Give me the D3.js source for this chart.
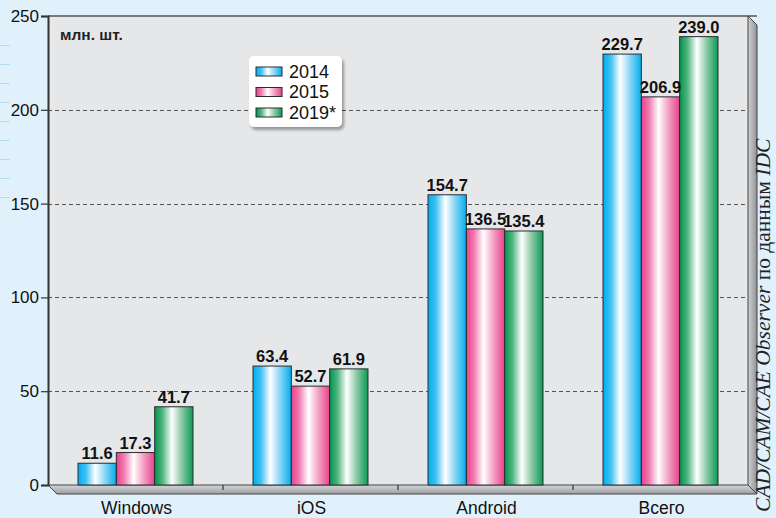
<!DOCTYPE html>
<html>
  <head>
    <meta charset="utf-8">
    <title>Tablets by platform</title>
    <script src="https://d3js.org/d3.v7.min.js"></script>
    <style>
      body { margin: 0; background: #e0f1fb; }
      svg { display: block; font-family: Arial, "Liberation Sans", sans-serif; }
    </style>
  </head>
  <body>
    <div id="chart"></div>
    <script>
      // data
      var categories = ["Windows", "iOS", "Android", "Всего"]
      var years = ["2014", "2015", "2019*"]
      var v2014 = [11.6, 63.4, 154.7, 229.7]
      var v2015 = [17.3, 52.7, 136.5, 206.9]
      var v2019 = [41.7, 61.9, 135.4, 239.0]
      var yTicks = [0, 50, 100, 150, 200, 250]
      var series = [v2014, v2015, v2019]

      const W = 776, H = 518
      const margin = {top: 16, right: 28, bottom: 33, left: 48}
      const width = W - margin.left - margin.right,
            height = H - margin.top - margin.bottom
      const depth = 9

      const svg = d3.select("#chart").append("svg")
        .attr("width", W).attr("height", H)

      const defs = svg.append("defs")
      const colors = [
        ["#00aeef", "#3fc0f2", "#ffffff", "#8bd6f5", "#00aeef"],
        ["#e8418c", "#f07bb0", "#ffffff", "#f3a3c6", "#e8418c"],
        ["#00954d", "#4fb47e", "#ffffff", "#8ccaa6", "#0a9a55"]
      ]
      colors.forEach(function(c, i) {
        var g = defs.append("linearGradient").attr("id", "grad" + i)
          .attr("x1", 0).attr("x2", 1).attr("y1", 0).attr("y2", 0)
        var offs = [0, 0.2, 0.45, 0.7, 1]
        c.forEach(function(col, j) {
          g.append("stop").attr("offset", offs[j]).attr("stop-color", col)
        })
      })
      var fg = defs.append("linearGradient").attr("id", "floor")
        .attr("x1", 0).attr("x2", 0).attr("y1", 0).attr("y2", 1)
      fg.append("stop").attr("offset", 0).attr("stop-color", "#d4d5d7")
      fg.append("stop").attr("offset", 1).attr("stop-color", "#9c9ea1")
      var wg = defs.append("linearGradient").attr("id", "wall")
        .attr("x1", 0).attr("x2", 1).attr("y1", 0).attr("y2", 0)
      wg.append("stop").attr("offset", 0).attr("stop-color", "#d0d1d3")
      wg.append("stop").attr("offset", 1).attr("stop-color", "#909295")
      var sh = defs.append("filter").attr("id", "shadow")
        .attr("x", "-20%").attr("y", "-20%").attr("width", "140%").attr("height", "140%")
      sh.append("feDropShadow").attr("dx", 2).attr("dy", 3).attr("stdDeviation", 1.5)
        .attr("flood-color", "#000").attr("flood-opacity", 0.35)

      // faint lines from the page behind the chart
      svg.selectAll("line.bg")
        .data(d3.range(9))
        .join("line")
          .attr("x1", 0).attr("x2", 10)
          .attr("y1", d => 45.5 + d * 19).attr("y2", d => 45.5 + d * 19)
          .attr("stroke", "#b3dcf0").attr("stroke-width", 1)

      const x = d3.scaleBand()
        .domain(categories)
        .range([margin.left, margin.left + width])
        .paddingInner(0.343).paddingOuter(0.1715)
      const xs = d3.scaleBand()
        .domain(years)
        .range([0, x.bandwidth()])
      const y = d3.scaleLinear()
        .domain([0, 250])
        .range([margin.top + height, margin.top])

      const x0 = margin.left, x1 = margin.left + width,
            yb = margin.top + height, yt = margin.top

      // back wall
      svg.append("rect")
        .attr("x", x0).attr("y", yt)
        .attr("width", width).attr("height", height)
        .attr("fill", "#e6e7e9")
      svg.append("line")
        .attr("x1", x0).attr("x2", x1 + depth).attr("y1", yt).attr("y2", yt)
        .attr("stroke", "#555").attr("stroke-width", 1.5)

      // right wall and floor
      svg.append("polygon")
        .attr("points", [[x1, yt], [x1 + depth, yt + depth], [x1 + depth, yb + depth], [x1, yb]].join(" "))
        .attr("fill", "url(#wall)").attr("stroke", "#444").attr("stroke-width", 1)
      svg.append("polygon")
        .attr("points", [[x0, yb], [x1, yb], [x1 + depth, yb + depth], [x0 + depth, yb + depth]].join(" "))
        .attr("fill", "url(#floor)").attr("stroke", "#444").attr("stroke-width", 1)

      // grid
      svg.selectAll("line.grid")
        .data(yTicks.filter(d => d > 0 && d < 250))
        .join("line")
          .attr("x1", x0).attr("x2", x1)
          .attr("y1", d => Math.round(y(d)) + 0.5).attr("y2", d => Math.round(y(d)) + 0.5)
          .attr("stroke", "#555").attr("stroke-width", 1)
          .attr("stroke-dasharray", "4,3")

      // x ticks on the floor
      svg.selectAll("line.xt")
        .data(categories.slice(1))
        .join("line")
          .attr("x1", d => x(d) - x.step() * x.paddingInner() / 2)
          .attr("x2", d => x(d) - x.step() * x.paddingInner() / 2)
          .attr("y1", yb).attr("y2", yb + 5)
          .attr("stroke", "#333").attr("stroke-width", 1.2)

      // y axis
      const yAxis = svg.append("g")
        .attr("transform", `translate(${x0},0)`)
        .call(d3.axisLeft(y).tickValues(yTicks).tickSize(7).tickPadding(2))
      yAxis.select(".domain").attr("stroke", "#333").attr("stroke-width", 2)
      yAxis.selectAll(".tick line").attr("stroke", "#333").attr("stroke-width", 1.2)
      yAxis.selectAll(".tick text")
        .attr("font-size", 17).attr("fill", "#111")
        .attr("font-family", "Arial, Liberation Sans, sans-serif")

      // bars
      const groups = svg.selectAll("g.cat")
        .data(categories)
        .join("g")
          .attr("transform", d => `translate(${x(d)},0)`)

      groups.selectAll("rect")
        .data((d, i) => series.map((s, k) => ({year: years[k], k: k, value: s[i]})))
        .join("rect")
          .attr("x", d => xs(d.year))
          .attr("y", d => y(d.value))
          .attr("width", xs.bandwidth())
          .attr("height", d => yb - y(d.value))
          .attr("fill", d => `url(#grad${d.k})`)
          .attr("stroke", "#2b2b2b").attr("stroke-width", 1)

      groups.selectAll("text")
        .data((d, i) => series.map((s, k) => ({year: years[k], value: s[i]})))
        .join("text")
          .attr("x", d => xs(d.year) + xs.bandwidth() / 2)
          .attr("y", d => y(d.value) - 4)
          .attr("text-anchor", "middle")
          .attr("font-size", 16.5).attr("font-weight", "bold")
          .attr("fill", "#111")
          .text(d => d3.format(".1f")(d.value))

      // category labels
      svg.selectAll("text.cat")
        .data(categories)
        .join("text")
          .attr("x", d => x(d) + x.bandwidth() / 2 + 1)
          .attr("y", 514)
          .attr("text-anchor", "middle")
          .attr("font-size", 17.5).attr("fill", "#111")
          .text(d => d)

      // units
      svg.append("text")
        .attr("x", 60).attr("y", 40)
        .attr("font-size", 15.5).attr("font-weight", "bold").attr("fill", "#222")
        .text("млн. шт.")

      // legend
      const lg = svg.append("g").attr("transform", "translate(249,56)")
      lg.append("rect")
        .attr("width", 93).attr("height", 71).attr("rx", 5)
        .attr("fill", "#fff").attr("filter", "url(#shadow)")
      const li = lg.selectAll("g.item")
        .data(years)
        .join("g")
          .attr("transform", (d, i) => `translate(7,${11 + i * 20.5})`)
      li.append("rect")
        .attr("width", 26).attr("height", 9)
        .attr("fill", (d, i) => `url(#grad${i})`)
        .attr("stroke", "#2b2b2b").attr("stroke-width", 1)
      li.append("text")
        .attr("x", 33).attr("y", 10.5)
        .attr("font-size", 18).attr("fill", "#111")
        .text(d => d)

      // source, vertical
      const src = svg.append("text")
        .attr("transform", "translate(770,512) rotate(-90)")
        .attr("font-family", "Liberation Serif, Times New Roman, serif")
        .attr("font-size", 21.5).attr("fill", "#222")
      src.append("tspan").attr("font-style", "italic").text("CAD/CAM/CAE Observer")
      src.append("tspan").text(" по данным ")
      src.append("tspan").attr("font-style", "italic").text("IDC")
    </script>
  </body>
</html>
